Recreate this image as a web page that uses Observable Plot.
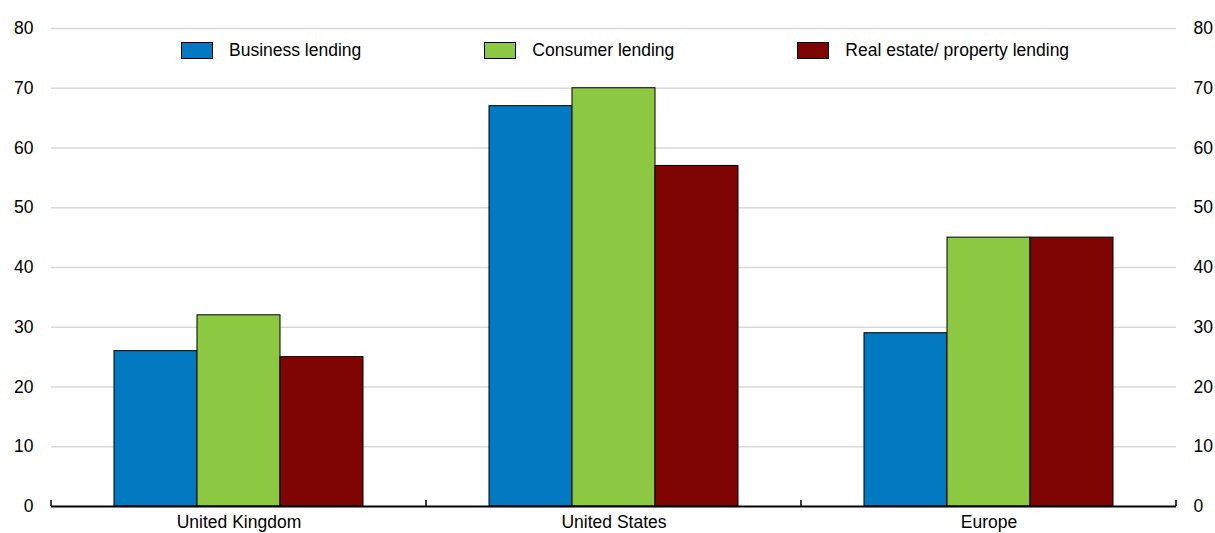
<!DOCTYPE html>
<html>
<head>
<meta charset="utf-8">
<script src="https://cdn.jsdelivr.net/npm/d3@7"></script>
<script src="https://cdn.jsdelivr.net/npm/@observablehq/plot@0.6"></script>
<style>
  body { margin: 0; background: #fff; font-family: "Liberation Sans", Arial, sans-serif; }
  #wrap { position: relative; width: 1215px; height: 533px; }
  #legend { position: absolute; top: 40px; left: 181px; display: flex; align-items: center; gap: 123px; font-size: 17.5px; color: #000; }
  .item { display: flex; align-items: center; gap: 16px; white-space: nowrap; }
  .sw { width: 30px; height: 15px; border: 1px solid #000; }
</style>
</head>
<body>
<div id="wrap"><div id="legend"></div></div>
<script>
const countries = ["United Kingdom", "United States", "Europe"];
const series = ["Business lending", "Consumer lending", "Real estate/ property lending"];
const colors = ["#0279C0", "#8CC841", "#7F0505"];
const business = [26, 67, 29];
const consumer = [32, 70, 45];
const realEstate = [25, 57, 45];
const yTicks = [0, 10, 20, 30, 40, 50, 60, 70, 80];

const valuesBySeries = [business, consumer, realEstate];
const data = [];
countries.forEach((c, i) => series.forEach((s, j) => data.push({country: c, series: s, value: valuesBySeries[j][i]})));

const plot = Plot.plot({
  width: 1215,
  height: 533,
  marginLeft: 50,
  marginRight: 38,
  marginTop: 28,
  marginBottom: 27,
  style: {fontFamily: "'Liberation Sans', Arial, sans-serif", fontSize: "17.5px", color: "#000", background: "#fff"},
  fx: {domain: countries, padding: 0, label: null},
  x: {domain: series, paddingInner: 0, paddingOuter: 0.74, axis: null},
  y: {domain: [0, 80], label: null},
  color: {domain: series, range: colors},
  marks: [
    Plot.gridY(yTicks.filter(d => d > 0), {stroke: "#d9d9d9", strokeOpacity: 1, strokeWidth: 1.5}),
    Plot.barY(data, {fx: "country", x: "series", y: "value", fill: "series", stroke: "#000", strokeWidth: 1}),
    Plot.ruleY([0], {stroke: "#000", strokeWidth: 2}),
    Plot.axisY(yTicks, {anchor: "left", tickSize: 0, tickPadding: 18, label: null}),
    Plot.axisY(yTicks, {anchor: "right", tickSize: 0, tickPadding: 17, label: null}),
    Plot.axisFx({anchor: "bottom", tickSize: 0, tickPadding: 9, label: null})
  ]
});

document.getElementById("wrap").prepend(plot);

// group boundary ticks on the category axis
const fx = plot.scale("fx");
const y = plot.scale("y");
const y0 = y.apply(0);
const bounds = countries.map(c => fx.apply(c));
bounds.push(fx.apply(countries[countries.length - 1]) + fx.bandwidth);
d3.select(plot).append("g")
  .selectAll("line").data(bounds).join("line")
  .attr("x1", d => d).attr("x2", d => d)
  .attr("y1", y0).attr("y2", y0 - 6)
  .attr("stroke", "#000").attr("stroke-width", 1.5);

// legend
const legend = d3.select("#legend");
series.forEach((s, i) => {
  const it = legend.append("div").attr("class", "item");
  it.append("div").attr("class", "sw").style("background", colors[i]);
  it.append("span").text(s);
});
</script>
</body>
</html>
